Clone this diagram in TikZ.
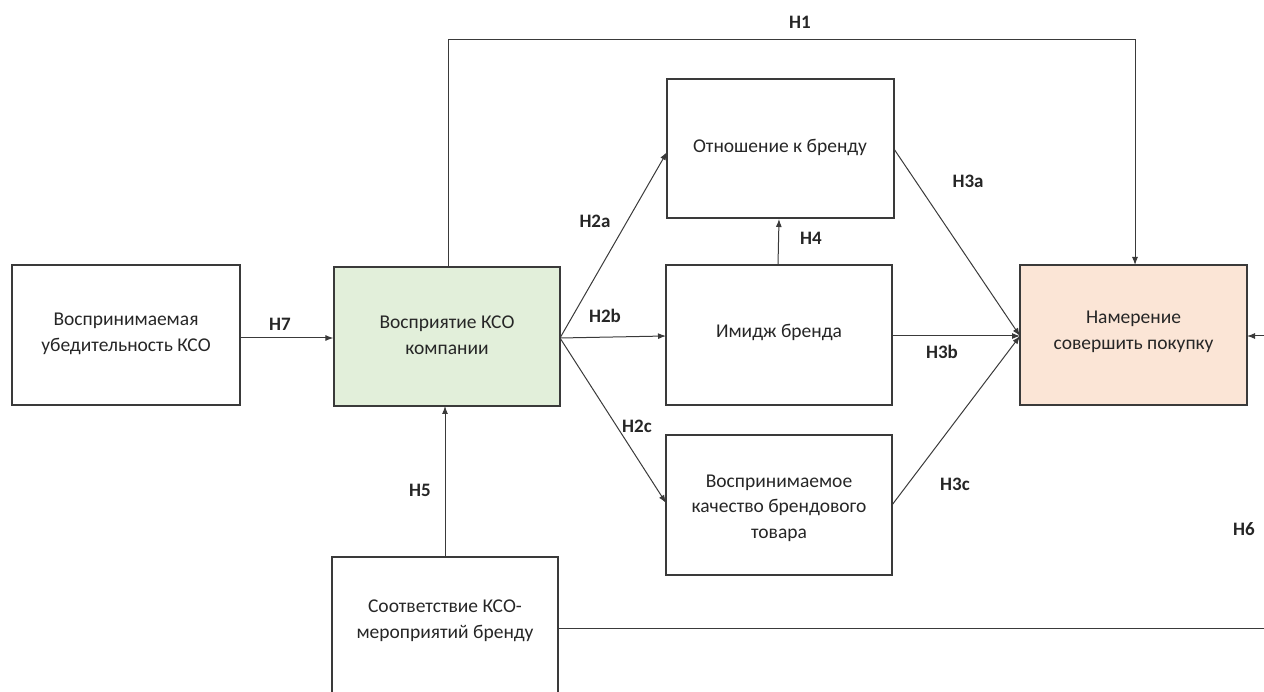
\documentclass[tikz,border=0pt]{standalone}
\usepackage{fontspec}
\setmainfont{Carlito}
\usetikzlibrary{arrows.meta}
\definecolor{edgec}{HTML}{3A3A3A}
\definecolor{greenfill}{HTML}{E2EFDA}
\definecolor{peachfill}{HTML}{FBE5D6}
\begin{document}
\begin{tikzpicture}[x=1pt,y=-1pt,
  box/.style={draw=edgec,line width=1.3pt,minimum width=#1,inner sep=0pt},
  box/.default=226pt,
  txt/.style={align=center,inner sep=0pt,font=\fontsize{19.5}{25.5}\selectfont,text=black!85},
  conn/.style={draw=edgec,line width=1pt},
  arr/.style={conn,-{Latex[length=8pt,width=6pt]}},
  lab/.style={font=\bfseries\fontsize{19}{22}\selectfont,text=black!85}]
\useasboundingbox (0,0) rectangle (1264,692);
\clip (0,0) rectangle (1264,692);
% boxes
\node[box=228pt,minimum height=140pt] (b1) at (126,335) {};
\node[box,minimum height=139pt,fill=greenfill] (b2) at (447,336.5) {};
\node[box=227pt,minimum height=139pt] (b3) at (780.5,148.5) {};
\node[box,minimum height=140pt] (b4) at (779,335) {};
\node[box,minimum height=140pt] (b5) at (779,505) {};
\node[box=227pt,minimum height=140pt,fill=peachfill] (b6) at (1133.5,335) {};
\node[box=226pt,minimum height=150pt] (b7) at (445,632) {};
% texts
\node[txt] (t1) at (126,334) {Воспринимаемая\\убедительность КСО};
\node[txt] (t2) at (447,335) {Восприятие КСО\\компании};
\node[txt] (t3) at (780,147) {Отношение к бренду};
\node[txt] (t4) at (779,332) {Имидж бренда};
\node[txt] (t5) at (779,508) {Воспринимаемое\\качество брендового\\товара};
\node[txt] (t6) at (1133.5,332) {Намерение\\совершить покупку};
\node[txt] (t7) at (445,621) {Соответствие КСО-\\мероприятий бренду};
% coordinates
\coordinate (h1a) at (448,40);
\coordinate (h1b) at (1135,40);
\coordinate (b6t) at (1135,265);
\coordinate (b2t) at (448,267);
\coordinate (b2r) at (560,338);
\coordinate (b6l) at (1020,336);
\coordinate (r1) at (1264,336);
\coordinate (r2) at (1264,628);
\coordinate (b7r) at (558,628);
% connectors
\draw[arr] (b1.east |- 0,338) -- (b2.west |- 0,338);
\draw[arr] (b2t) -- (h1a) -- (h1b) -- (b6t);
\draw[arr] (b2r) -- (667,152);
\draw[arr] (b2r) -- (666,336);
\draw[arr] (b2r) -- (666,503);
\draw[arr] (778,265) -- (779,219);
\draw[arr] (894,149) -- (b6l);
\draw[arr] (892,336) -- (b6l);
\draw[arr] (892,505) -- (b6l);
\draw[arr] (445,557) -- (445,406);
\draw[conn] (b7r) -- (r2);
\draw[arr] (r1) -- (1247,336);
% labels
\node[lab] (l1) at (800,22) {H1};
\node[lab] (l7) at (280,324) {H7};
\node[lab] (l2a) at (595,221) {H2a};
\node[lab] (l2b) at (605,316) {H2b};
\node[lab] (l2c) at (637,426) {H2c};
\node[lab] (l4) at (811,238) {H4};
\node[lab] (l3a) at (968,181) {H3a};
\node[lab] (l3b) at (942,352) {H3b};
\node[lab] (l3c) at (955,484) {H3c};
\node[lab] (l5) at (420,490) {H5};
\node[lab] (l6) at (1244,529) {H6};
\end{tikzpicture}
\end{document}
